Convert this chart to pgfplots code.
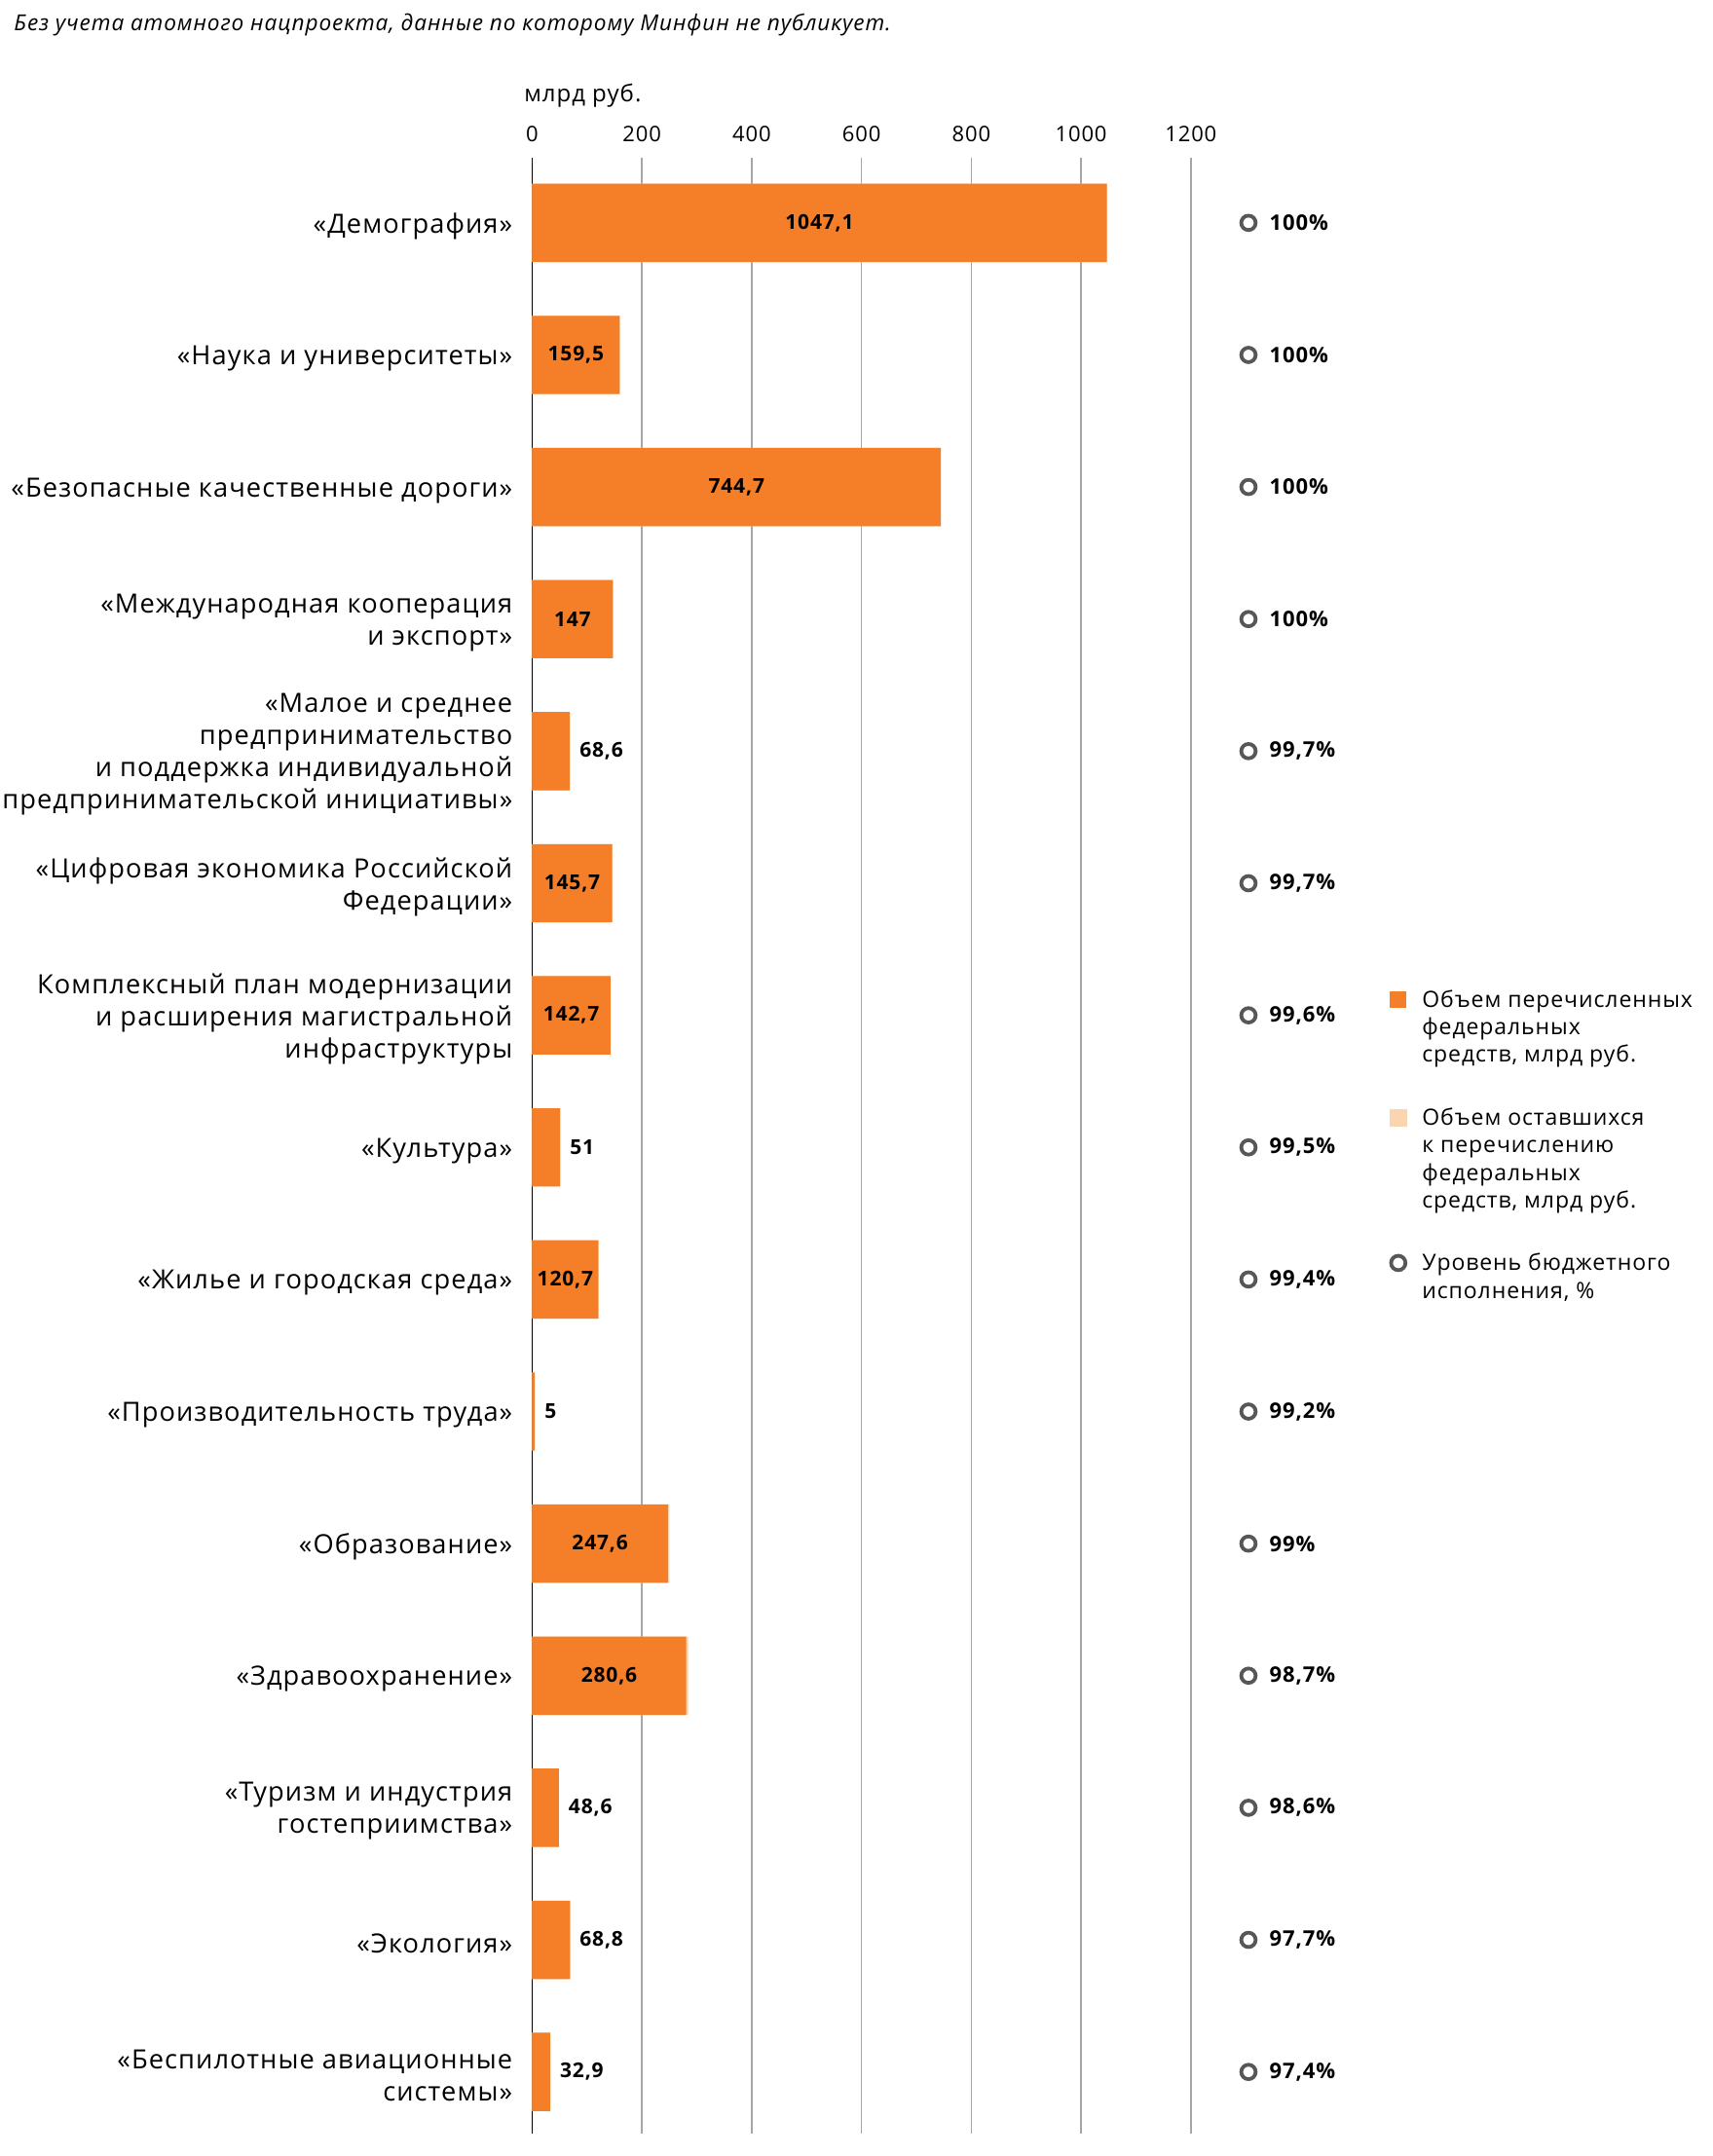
\documentclass[border=0pt]{standalone}
\usepackage{fontspec}
\setmainfont{Open Sans}[LetterSpace=4]
\usepackage{pgfplots}
\usepackage{pgfplotstable}
\pgfplotsset{compat=1.18}
\definecolor{orng}{HTML}{F57F29}
\definecolor{peach}{HTML}{FBD5AF}
\definecolor{ringc}{HTML}{575757}
\definecolor{gridc}{HTML}{A6A6A6}
\tikzset{valnode/.style={font=\bfseries\fontsize{10.5}{12}\selectfont, inner sep=0pt, text=black}}
\tikzset{pctnode/.style={font=\bfseries\fontsize{11}{13}\selectfont, inner sep=0pt, text=black}}

\pgfplotstableread{
idx val rem pct inside
0 1047.1 0 100 1
1 159.5 0 100 1
2 744.7 0 100 1
3 147 0 100 1
4 68.6 0.2 99.7 0
5 145.7 0.4 99.7 1
6 142.7 0.6 99.6 1
7 51 0.3 99.5 0
8 120.7 0.7 99.4 1
9 5 0.04 99.2 0
10 247.6 2.5 99 1
11 280.6 3.7 98.7 1
12 48.6 0.7 98.6 0
13 68.8 1.6 97.7 0
14 32.9 0.9 97.4 0
}\data

\begin{document}
\begin{tikzpicture}
\begin{axis}[
  name=ax,
  scale only axis,
  width=338.2pt, height=1014.5pt,
  bar width=0.593,
  xmin=0, xmax=1200,
  ymin=-0.49, ymax=14.47,
  y dir=reverse,
  clip=false,
  axis x line*=top,
  axis y line*=left,
  x axis line style={draw=none},
  y axis line style={black, line width=0.8pt},
  xtick={0,200,...,1200},
  xticklabel={\pgfmathprintnumber[1000 sep={}]{\tick}},
  xmajorgrids,
  major grid style={gridc, line width=0.75pt},
  ytick={0,...,14},
  yticklabels={
    {«Демография»},
    {«Наука и университеты»},
    {«Безопасные качественные дороги»},
    {«Международная кооперация\\и экспорт»},
    {«Малое и среднее\\предпринимательство\\и поддержка индивидуальной\\предпринимательской инициативы»},
    {«Цифровая экономика Российской\\Федерации»},
    {Комплексный план модернизации\\и расширения магистральной\\инфраструктуры},
    {«Культура»},
    {«Жилье и городская среда»},
    {«Производительность труда»},
    {«Образование»},
    {«Здравоохранение»},
    {«Туризм и индустрия\\гостеприимства»},
    {«Экология»},
    {«Беспилотные авиационные\\системы»}
  },
  tick style={draw=none},
  major tick length=0pt,
  /pgf/number format/assume math mode=true,
  xticklabel style={font=\fontsize{11}{13}\selectfont, anchor=center, inner sep=0pt, yshift=12.2pt},
  yticklabel style={font=\fontsize{13.6}{16.5}\selectfont, align=right, anchor=east, inner sep=0pt, xshift=-9.9pt, yshift=-1.8pt},
  title={млрд руб.},
  title style={at={(axis description cs:0,1)}, anchor=west, xshift=-4.2pt, yshift=26.2pt, font=\fontsize{12}{14}\selectfont, inner sep=0pt},
  legend style={at={(axis description cs:1.3006,0.581)}, anchor=north west, draw=none, fill=none,
    font=\fontsize{11.5}{14.1}\selectfont, cells={anchor=base west, align=left}, row sep=18pt, inner sep=0pt,
    /tikz/every odd column/.append style={column sep=5.6pt}},
]
% remaining amounts (drawn below)
\addplot[xbar, bar shift=0pt, fill=peach, draw=none, forget plot]
  table[x expr={\thisrow{val}+\thisrow{rem}}, y=idx]{\data};
% transferred amounts
\addplot[xbar, bar shift=0pt, fill=orng, draw=none,
  legend image code/.code={\fill[orng] (0pt,27.9pt) rectangle (8.5pt,36.4pt);}
] table[x=val, y=idx]{\data};
\addlegendentry{Объем перечисленных\\федеральных\\средств, млрд руб.}
\addlegendimage{legend image code/.code={\fill[peach] (0pt,42.0pt) rectangle (8.5pt,50.5pt);}}
\addlegendentry{Объем оставшихся\\к перечислению\\федеральных\\средств, млрд руб.}
\addplot[only marks, mark=o, mark size=3.7pt,
  mark options={draw=ringc, line width=1.9pt},
  point meta=explicit,
  nodes near coords={\pgfmathprintnumber[use comma,fixed,precision=1]{\pgfplotspointmeta}\%},
  every node near coord/.append style={anchor=west, xshift=9.9pt, pctnode},
  legend image code/.code={\draw[ringc, line width=1.9pt] (4.25pt,18.05pt) circle (3.7pt);}
] table[x expr=1305, y=idx, meta=pct]{\data};
\addlegendentry{Уровень бюджетного\\исполнения, \%}
% value labels inside bars
\addplot[only marks, mark=none, forget plot,
  restrict y to domain=-1:15,
  point meta=explicit,
  nodes near coords={\pgfmathprintnumber[use comma,1000 sep={},fixed,precision=1]{\pgfplotspointmeta}},
  every node near coord/.append style={anchor=center, valnode},
] table[x expr={0.5*\thisrow{val}}, y expr={\thisrow{inside}==1 ? \thisrow{idx} : -100}, meta=val]{\data};
% value labels beside bars
\addplot[only marks, mark=none, forget plot,
  restrict y to domain=-1:15,
  point meta=explicit,
  nodes near coords={\pgfmathprintnumber[use comma,1000 sep={},fixed,precision=1]{\pgfplotspointmeta}},
  every node near coord/.append style={anchor=west, xshift=4.9pt, valnode},
] table[x=val, y expr={\thisrow{inside}==0 ? \thisrow{idx} : -100}, meta=val]{\data};
\node[anchor=west, inner sep=0pt, font=\itshape\fontsize{11.3}{13}\selectfont, xshift=-266.2pt, yshift=68.5pt] at (axis description cs:0,1) {Без учета атомного нацпроекта, данные по которому Минфин не публикует.};
\end{axis}
\pgfresetboundingbox
\path (ax.south west) ++(-273.2pt,-11.3pt) rectangle ++(879pt,1107pt);
\end{tikzpicture}
\end{document}
